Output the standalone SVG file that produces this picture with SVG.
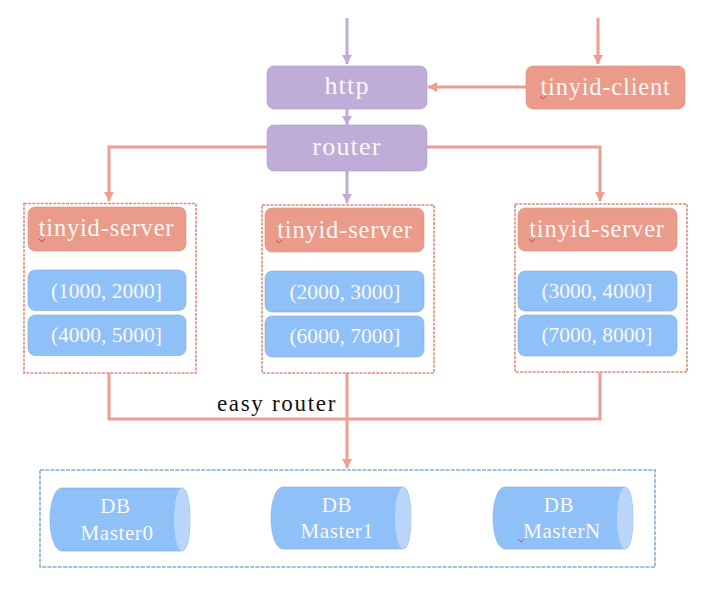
<svg xmlns="http://www.w3.org/2000/svg" width="702" height="589" viewBox="0 0 702 589">
<style>
text{font-family:"Liberation Serif","Times New Roman",serif;fill:#fbf8f4;text-anchor:middle}
.t{font-size:24.500px;letter-spacing:.8px}
.b{font-size:26px;letter-spacing:1.200px}
.n{font-size:21.500px;letter-spacing:0}
.d{font-size:21px;letter-spacing:.6px}
.purple{fill:#c0acd9;stroke:#ab9bc2;stroke-width:.6}
.red{fill:#ea9b8a;stroke:#d99182;stroke-width:.6}
.blue{fill:#8fc0f8;stroke:#88acd6;stroke-width:.6}
.frame{fill:none;stroke:#d98f80;stroke-width:1.600;stroke-dasharray:3 1.200}
.dbframe{fill:none;stroke:#86aed6;stroke-width:1.600;stroke-dasharray:4 1.200}
.lp{fill:none;stroke:#c0acd9;stroke-width:3}
.lr{fill:none;stroke:#ec9f8f;stroke-width:3}
.squig{fill:none;stroke:#d8343c;stroke-width:.9}
.cap{fill:#b9d6fa}
</style>
<defs>
<marker id="ap" markerUnits="userSpaceOnUse" markerWidth="10" markerHeight="10" refX="9" refY="5" orient="auto"><path d="M0 0L9 5L0 10Z" fill="#c0acd9"/></marker>
<marker id="ar" markerUnits="userSpaceOnUse" markerWidth="10" markerHeight="10" refX="9" refY="5" orient="auto"><path d="M0 0L9 5L0 10Z" fill="#ec9f8f"/></marker>
</defs>
<rect width="702" height="589" fill="#fff"/>
<g id="connectors">
<path class="lp" d="M347 18V64" marker-end="url(#ap)"/>
<path class="lp" d="M347 109V125" marker-end="url(#ap)"/>
<path class="lp" d="M347 171V203" marker-end="url(#ap)"/>
<path class="lr" d="M598 18V64" marker-end="url(#ar)"/>
<path class="lr" d="M526 87H428" marker-end="url(#ar)"/>
<path class="lr" d="M267 147H109V201" marker-end="url(#ar)"/>
<path class="lr" d="M427 147H600V201" marker-end="url(#ar)"/>
<path class="lr" d="M109 373V419H600V372"/>
<path class="lr" d="M347 373V468" marker-end="url(#ar)"/>
</g>
<g id="http"><rect class="purple" x="267" y="66" width="160" height="43" rx="7"/><text class="b" x="347" y="94">http</text></g>
<g id="router"><rect class="purple" x="267" y="125" width="160" height="46" rx="7"/><text class="b" x="347" y="155">router</text></g>
<g id="client"><rect class="red" x="526" y="66" width="159" height="43" rx="7"/><text class="t" x="605.500" y="95">tinyid-client</text><path class="squig" d="M540 96l3 3l3-3"/></g>
<g id="server0"><rect class="frame" x="24" y="203.500" width="172" height="169.500"/><rect class="red" x="28" y="207" width="158" height="44" rx="7"/><text class="t" x="106.500" y="236">tinyid-server</text><path class="squig" d="M39 239l3 3l3-3"/><rect class="blue" x="28" y="270" width="158" height="40.500" rx="7"/><text class="n" x="106.500" y="298">(1000, 2000]</text><rect class="blue" x="28" y="315" width="158" height="40.500" rx="7"/><text class="n" x="106.500" y="342">(4000, 5000]</text></g>
<g id="server1"><rect class="frame" x="262" y="205" width="172" height="168"/><rect class="red" x="265" y="208" width="159" height="44" rx="7"/><text class="t" x="345" y="238">tinyid-server</text><path class="squig" d="M276 240l3 3l3-3"/><rect class="blue" x="265" y="271" width="159" height="41" rx="7"/><text class="n" x="345" y="299">(2000, 3000]</text><rect class="blue" x="265" y="316" width="159" height="41" rx="7"/><text class="n" x="345" y="343">(6000, 7000]</text></g>
<g id="server2"><rect class="frame" x="515" y="204" width="172" height="168"/><rect class="red" x="518" y="208" width="159" height="43" rx="7"/><text class="t" x="597" y="237">tinyid-server</text><path class="squig" d="M529 239l3 3l3-3"/><rect class="blue" x="518" y="271" width="159" height="40" rx="7"/><text class="n" x="597" y="298">(3000, 4000]</text><rect class="blue" x="518" y="315" width="159" height="41" rx="7"/><text class="n" x="597" y="342">(7000, 8000]</text></g>
<text x="277" y="411" style="fill:#111;font-size:23px;letter-spacing:1.700px">easy router</text>
<g id="dbgroup"><rect class="dbframe" x="40" y="470" width="615" height="97"/></g>
<g id="db0"><path class="blue" d="M62 488H182C187 488 190 502 190 519.500S187 551 182 551H62C55 551 50 537 50 519.500S55 488 62 488Z"/><ellipse class="cap" cx="182" cy="519.500" rx="8" ry="31.500"/><text class="d" x="115.500" y="513">DB</text><text class="d" x="117" y="540">Master0</text></g>
<g id="db1"><path class="blue" d="M283 487H403C408 487 411 501 411 518S408 549 403 549H283C276 549 271 535 271 518S276 487 283 487Z"/><ellipse class="cap" cx="403" cy="518" rx="8" ry="31"/><text class="d" x="337" y="512">DB</text><text class="d" x="337" y="538">Master1</text></g>
<g id="dbn"><path class="blue" d="M505 487H625C630 487 633 501 633 518S630 549 625 549H505C498 549 493 535 493 518S498 487 505 487Z"/><ellipse class="cap" cx="625" cy="518" rx="8" ry="31"/><text class="d" x="559" y="512">DB</text><text class="d" x="562" y="538">MasterN</text><path class="squig" d="M518 539l3 3l3-3"/></g>
</svg>
